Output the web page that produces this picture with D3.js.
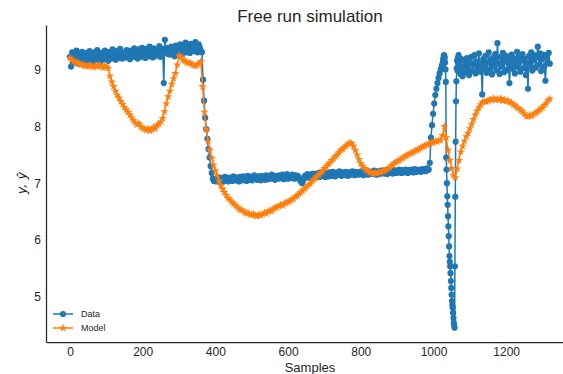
<!DOCTYPE html>
<html>
<head>
<meta charset="utf-8">
<script src="https://cdn.jsdelivr.net/npm/d3@7"></script>
<style>
  body { margin: 0; background: #fff; }
  svg { display: block; font-family: "Liberation Sans", Arial, sans-serif; }
</style>
</head>
<body>
<svg id="chart" width="563" height="374"></svg>
<script>
// measured data, every 3rd sample from 0 to 1026
const dataHead = [
  9.22, 9.05, 9.30, 9.15, 9.26, 9.12, 9.33, 9.20, 9.10, 9.28, 9.18, 9.31, 9.14, 9.24, 9.09, 9.29, 9.21, 9.16, 9.32, 9.19,
  9.25, 9.12, 9.30, 9.22, 9.17, 9.34, 9.20, 9.27, 9.13, 9.29, 9.24, 9.18, 9.33, 9.21, 9.26, 9.15, 9.31, 9.23, 9.19, 9.35,
  9.22, 9.28, 9.17, 9.32, 9.25, 9.20, 9.36, 9.24, 9.19, 9.30, 9.27, 9.21, 9.34, 9.23, 9.29, 9.18, 9.33, 9.26, 9.22, 9.37,
  9.24, 9.30, 9.19, 9.35, 9.27, 9.22, 9.38, 9.25, 9.31, 9.20, 9.36, 9.28, 9.23, 9.40, 9.26, 9.32, 9.21, 9.37, 9.29, 9.24,
  9.34, 9.27, 9.41, 9.22, 9.31, 9.36, 8.76, 9.52, 9.30, 9.38, 9.27, 9.33, 9.26, 9.40, 9.29, 9.35, 9.23, 9.42, 9.31, 9.37,
  9.28, 9.44, 9.33, 9.26, 9.40, 9.35, 9.47, 9.30, 9.38, 9.43, 9.29, 9.45, 9.36, 9.41, 9.32, 9.48, 9.37, 9.30, 9.44, 9.39, 9.33,
  9.30, 8.82, 8.45, 8.15, 7.95, 7.78, 7.60, 7.45, 7.30, 7.18, 7.08, 7.04,
  7.06, 7.03, 7.09, 7.05, 7.10, 7.04, 7.08, 7.02, 7.07, 7.11, 7.05, 7.08, 7.03, 7.10, 7.06, 7.09, 7.04, 7.12, 7.07, 7.05,
  7.10, 7.06, 7.03, 7.11, 7.08, 7.05, 7.12, 7.07, 7.09, 7.04, 7.13, 7.08, 7.06, 7.11, 7.05, 7.09, 7.14, 7.07, 7.10, 7.06,
  7.12, 7.08, 7.05, 7.13, 7.09, 7.11, 7.06, 7.14, 7.10, 7.07, 7.12, 7.09, 7.15, 7.08, 7.11, 7.06, 7.13, 7.10, 7.08, 7.14,
  7.11, 7.09, 7.15, 7.07, 7.12, 7.10, 7.16, 7.08, 7.13, 7.11, 7.09, 7.15, 7.12, 7.08, 7.14, 7.10, 7.13, 7.09, 7.05, 7.02,
  7.00, 7.06, 7.11, 7.14, 7.10, 7.16, 7.12, 7.09, 7.15, 7.11, 7.17, 7.13, 7.10, 7.16, 7.12, 7.18, 7.11, 7.14, 7.17, 7.13,
  7.15, 7.11, 7.18, 7.14, 7.12, 7.19, 7.15, 7.13, 7.20, 7.16, 7.12, 7.18, 7.14, 7.17, 7.21, 7.15, 7.13, 7.19, 7.16, 7.14,
  7.20, 7.17, 7.13, 7.19, 7.15, 7.18, 7.21, 7.16, 7.14, 7.20, 7.17, 7.15, 7.19, 7.16, 7.21, 7.18, 7.14, 7.20, 7.17, 7.19,
  7.15, 7.21, 7.18, 7.16, 7.20, 7.17, 7.22, 7.18, 7.15, 7.21, 7.19, 7.16, 7.22, 7.18, 7.20, 7.17, 7.23, 7.19, 7.16, 7.21,
  7.18, 7.22, 7.19, 7.17, 7.23, 7.20, 7.18, 7.22, 7.19, 7.24, 7.20, 7.18, 7.23, 7.21, 7.19, 7.24, 7.21, 7.18, 7.23, 7.20,
  7.24, 7.21, 7.19, 7.25, 7.22, 7.20, 7.24, 7.21, 7.23, 7.20, 7.25, 7.22, 7.24, 7.21, 7.26, 7.23, 7.24,
  7.36, 7.80, 8.02, 8.22, 8.40, 8.55, 8.66, 8.76, 8.85, 8.93, 9.00, 9.07, 9.13
];
// every sample from 1027 to 1070 (the deep dip)
const dataDip = [
  9.18, 9.22, 9.25, 9.23, 9.20, 9.12, 9.00, 8.78, 7.45, 7.24, 7.00, 6.77, 6.62, 6.42, 6.24, 6.07, 5.89, 5.72,
  5.62, 5.54, 5.42, 5.28, 5.16, 5.04, 4.93, 4.86, 4.81, 4.72, 4.63, 4.55, 4.50, 4.46,
  5.54, 6.76, 7.73, 8.44, 8.79, 9.02, 9.15, 8.98, 9.20, 9.08, 9.25, 9.05
];
// every 3rd sample from 1071 to 1320
const dataTail = [
  9.10, 8.92, 9.18, 8.88, 9.05, 9.15, 8.95, 9.20, 9.02, 8.90,
  9.12, 9.22, 8.97, 9.08, 9.25, 8.93, 9.14, 9.04, 9.28, 8.96,
  9.10, 8.56, 9.18, 9.02, 9.24, 8.94, 9.12, 9.30, 9.00, 9.16,
  8.91, 9.21, 9.06, 9.27, 8.98, 9.46, 9.10, 8.92, 9.22, 9.05,
  9.29, 8.95, 9.14, 9.24, 8.99, 9.18, 8.76, 9.08, 9.26, 9.01,
  9.20, 8.93, 9.13, 9.31, 9.04, 9.22, 8.96, 9.16, 9.27, 9.02,
  9.19, 8.90, 9.12, 8.66, 9.24, 9.06, 9.30, 8.98, 9.17, 9.25,
  9.03, 9.21, 9.40, 9.08, 9.28, 8.97, 9.19, 9.26, 9.05, 8.80,
  9.22, 9.12, 9.29, 9.10
];
// model output, every 5th sample from 0 to 1320
const model = [
  9.20, 9.17, 9.14, 9.12, 9.13, 9.10, 9.08, 9.09, 9.06, 9.07, 9.05, 9.08, 9.06, 9.04, 9.07, 9.05, 9.08, 9.06, 9.03, 9.06,
  9.05, 9.02, 8.88, 8.78, 8.70, 8.62, 8.55, 8.50, 8.44, 8.39, 8.33, 8.29, 8.25, 8.20, 8.15, 8.10, 8.06, 8.03, 8.05, 7.99,
  7.97, 7.95, 7.93, 7.96, 7.92, 7.94, 7.98, 7.96, 8.02, 8.04, 8.08, 8.14, 8.26, 8.40, 8.52, 8.62, 8.74, 8.84, 8.93, 9.08,
  9.24, 9.22, 9.17, 9.15, 9.13, 9.11, 9.12, 9.09, 9.07, 9.06, 9.08, 9.10, 9.14, 8.70, 8.25, 7.95, 7.74, 7.58, 7.44, 7.32,
  7.22, 7.14, 7.04, 6.96, 6.90, 6.84, 6.79, 6.74, 6.71, 6.67, 6.64, 6.61, 6.58, 6.55, 6.53, 6.52, 6.49, 6.47, 6.48, 6.45,
  6.44, 6.46, 6.43, 6.42, 6.45, 6.43, 6.46, 6.48, 6.47, 6.50, 6.52, 6.51, 6.55, 6.57, 6.58, 6.60, 6.62, 6.61, 6.64, 6.66,
  6.67, 6.69, 6.71, 6.73, 6.76, 6.78, 6.81, 6.84, 6.87, 6.90, 6.93, 6.96, 6.99, 7.03, 7.06, 7.09, 7.12, 7.15, 7.19, 7.22,
  7.26, 7.29, 7.33, 7.36, 7.40, 7.43, 7.47, 7.50, 7.54, 7.58, 7.60, 7.63, 7.66, 7.69, 7.71, 7.70, 7.65, 7.58, 7.50, 7.42,
  7.35, 7.30, 7.26, 7.23, 7.21, 7.19, 7.18, 7.17, 7.19, 7.17, 7.20, 7.19, 7.22, 7.21, 7.24, 7.26, 7.28, 7.31, 7.34, 7.36,
  7.38, 7.40, 7.42, 7.44, 7.46, 7.48, 7.50, 7.52, 7.53, 7.55, 7.57, 7.58, 7.60, 7.62, 7.64, 7.65, 7.67, 7.68, 7.70, 7.71,
  7.72, 7.74, 7.73, 7.75, 7.76, 7.84, 8.00, 7.80, 7.58, 7.40, 7.26, 7.14, 7.10, 7.25, 7.40, 7.55, 7.65, 7.74, 7.82, 7.88,
  7.96, 8.04, 8.12, 8.20, 8.27, 8.33, 8.38, 8.42, 8.44, 8.43, 8.45, 8.47, 8.46, 8.49, 8.47, 8.48, 8.46, 8.49, 8.45, 8.47,
  8.44, 8.45, 8.42, 8.41, 8.38, 8.36, 8.33, 8.31, 8.28, 8.26, 8.22, 8.18, 8.17, 8.19, 8.18, 8.21, 8.23, 8.25, 8.28, 8.30,
  8.33, 8.37, 8.40, 8.45, 8.48
];
const xTicks = [0, 200, 400, 600, 800, 1000, 1200];
const yTicks = [5, 6, 7, 8, 9];

const blue = "#1f77b4", orange = "#ff7f0e", ink = "#262626";

function seg(start, step, values) {
  return values.map((v, i) => ({ s: start + i * step, v: v }));
}
const dataPts = seg(0, 3, dataHead).concat(seg(1027, 1, dataDip), seg(1071, 3, dataTail));
const modelPts = seg(0, 5, model);

const svg = d3.select("#chart");

const x = d3.scaleLinear().domain([-66, 1388]).range([46, 574.5]);
const y = d3.scaleLinear().domain([4.21, 9.78]).range([342, 25]);

// axes (seaborn white: no tick marks, left + bottom spines)
const xAxis = svg.append("g")
  .attr("transform", "translate(0,342)")
  .call(d3.axisBottom(x).tickValues(xTicks).tickSize(0).tickSizeOuter(0).tickPadding(5.5).tickFormat(d3.format("d")));
const yAxis = svg.append("g")
  .attr("transform", "translate(46,0)")
  .call(d3.axisLeft(y).tickValues(yTicks).tickSize(0).tickSizeOuter(0).tickPadding(5).tickFormat(d3.format("d")));
[xAxis, yAxis].forEach(a => {
  a.select(".domain").attr("stroke", ink).attr("stroke-width", 1.25);
  a.selectAll("text").attr("fill", ink).attr("font-size", 12)
    .attr("font-family", "'Liberation Sans', Arial, sans-serif");
});

const line = d3.line().x(d => x(d.s)).y(d => y(d.v));

// Data series
svg.append("path").datum(dataPts)
  .attr("d", line).attr("fill", "none").attr("stroke", blue).attr("stroke-width", 1.5);
svg.append("g").selectAll("circle").data(dataPts).join("circle")
  .attr("cx", d => x(d.s)).attr("cy", d => y(d.v)).attr("r", 3.1).attr("fill", blue);

// Model series
const star = d3.symbol().type(d3.symbolStar).size(22);
svg.append("path").datum(modelPts)
  .attr("d", line).attr("fill", "none").attr("stroke", orange).attr("stroke-width", 1.5);
svg.append("g").selectAll("path").data(modelPts).join("path")
  .attr("transform", d => `translate(${x(d.s)},${y(d.v)})`)
  .attr("d", star).attr("fill", orange);

// title and labels
svg.append("text").attr("x", 310).attr("y", 22).attr("text-anchor", "middle")
  .attr("font-size", 17).attr("fill", ink).text("Free run simulation");
svg.append("text").attr("x", 310).attr("y", 372).attr("text-anchor", "middle")
  .attr("font-size", 13).attr("fill", ink).text("Samples");
svg.append("text").attr("transform", "translate(26,183) rotate(-90)").attr("text-anchor", "middle")
  .attr("font-size", 13).attr("font-style", "italic").attr("font-family", "'DejaVu Sans', sans-serif")
  .attr("fill", ink).text("y, ŷ");

// legend
const legend = svg.append("g").attr("transform", "translate(53,314)");
const items = [
  { name: "Data", color: blue, kind: "circle" },
  { name: "Model", color: orange, kind: "star" }
];
items.forEach((it, i) => {
  const g = legend.append("g").attr("transform", `translate(0,${i * 14})`);
  g.append("line").attr("x1", 0).attr("x2", 20).attr("stroke", it.color).attr("stroke-width", 1.5);
  if (it.kind === "circle") g.append("circle").attr("cx", 10).attr("r", 3.1).attr("fill", it.color);
  else g.append("path").attr("transform", "translate(10,0)").attr("d", star).attr("fill", it.color);
  g.append("text").attr("x", 28).attr("dy", "0.35em").attr("font-size", 9).attr("fill", ink).text(it.name);
});
</script>
</body>
</html>
